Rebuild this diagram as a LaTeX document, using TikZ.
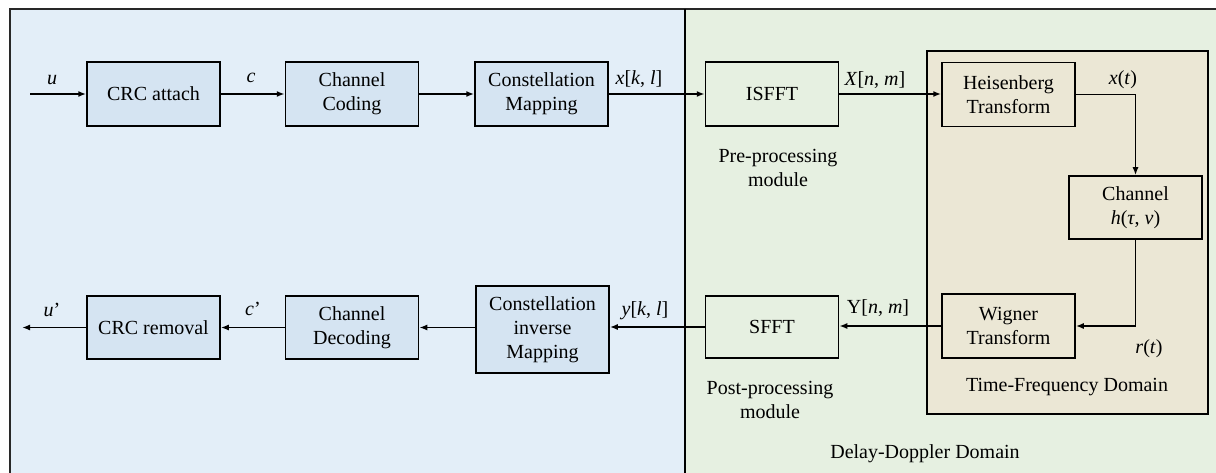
\documentclass[tikz,border=0pt]{standalone}
\usepackage{fontspec}
\setmainfont{Liberation Serif}
\usetikzlibrary{arrows.meta}
\definecolor{bluebg}{RGB}{227,238,248}
\definecolor{bluebox}{RGB}{213,228,242}
\definecolor{greenbg}{RGB}{230,240,225}
\definecolor{tfbg}{RGB}{235,231,213}
\definecolor{frame}{RGB}{40,40,40}
\tikzset{
  blk/.style={draw=black, line width=1.5pt, minimum width=133pt, minimum height=64pt, inner sep=0pt, align=center, font=\fontsize{20}{24}\selectfont},
  bblk/.style={blk, fill=bluebox},
  gblk/.style={blk, fill=greenbg},
  tblk/.style={blk, fill=tfbg},
  lbl/.style={font=\fontsize{20}{24}\selectfont, inner sep=0pt, align=center},
  arr/.style={line width=1.6pt, -{Latex[length=8pt,width=6pt]}}
}
\begin{document}
\begin{tikzpicture}[x=1pt,y=-1pt]
\useasboundingbox (0,0) rectangle (1216,473);
\clip (0,0) rectangle (1216,473);
% panels
\fill[bluebg] (10,9) rectangle (685,480);
\fill[greenbg] (685,9) rectangle (1230,480);
\draw[frame, line width=1.6pt] (1230,9) -- (10,9) -- (10,480);
\draw[black, line width=1.9pt] (685,9) -- (685,480);
\draw[black, line width=1.5pt, fill=tfbg] (927,51) rectangle (1208,414);
% blocks
\node[bblk] (crc) at (153.5,94) {CRC attach};
\node[bblk] (cc) at (352,94) {Channel\\Coding};
\node[bblk] (cm) at (541.5,94) {Constellation\\Mapping};
\node[gblk] (isfft) at (772,94) {ISFFT};
\node[tblk] (heis) at (1008.5,94.5) {Heisenberg\\Transform};
\node[tblk, minimum height=63pt] (chan) at (1135.5,207.5) {Channel\\\textit{h}(\textit{τ}, \textit{ν})};
\node[tblk] (wig) at (1008.5,326) {Wigner\\Transform};
\node[gblk, minimum height=62pt] (sfft) at (772,327) {SFFT};
\node[bblk, minimum height=87pt] (cim) at (542.5,329.5) {Constellation\\inverse\\Mapping};
\node[bblk, minimum height=63pt] (cd) at (352,327.5) {Channel\\Decoding};
\node[bblk, minimum height=63pt] (crcr) at (153.5,327.5) {CRC removal};
\coordinate (in) at (30,94);
\coordinate (out) at (22,327.5);
% connectors
\draw[arr] (in) -- (crc);
\draw[arr] (crc) -- (cc);
\draw[arr] (cc) -- (cm);
\draw[arr] (cm) -- (isfft);
\draw[arr] (isfft.east) -- (heis.west |- isfft.east);
\draw[arr] (heis.east) -| (chan.north);
\draw[arr] (chan.south) |- (wig.east);
\draw[arr] (wig.west) -- (sfft.east |- wig.west);
\draw[arr] (sfft.west) -- (cim.east |- sfft.west);
\draw[arr] (cim.west |- cd.east) -- (cd.east);
\draw[arr] (cd) -- (crcr);
\draw[arr] (crcr) -- (out);
% labels
\node[lbl] (lu) at (52,80) {\textit{u}};
\node[lbl] (lc) at (251,78) {\textit{c}};
\node[lbl] (lx) at (639,79) {\textit{x}[\textit{k}, \textit{l}]};
\node[lbl] (lX) at (875,80) {\textit{X}[\textit{n}, \textit{m}]};
\node[lbl] (lxt) at (1123,80) {\textit{x}(\textit{t})};
\node[lbl] (lY) at (878,308) {Y[\textit{n}, \textit{m}]};
\node[lbl] (ly) at (645,311) {\textit{y}[\textit{k}, \textit{l}]};
\node[lbl] (lrt) at (1149,349) {\textit{r}(\textit{t})};
\node[lbl] (luo) at (52,310) {\textit{u}’};
\node[lbl] (lco) at (253,309) {\textit{c}’};
\node[lbl] (pre) at (778,168) {Pre-processing\\module};
\node[lbl] (post) at (770,400) {Post-processing\\module};
\node[lbl] (tf) at (1067,387) {Time-Frequency Domain};
\node[lbl] (dd) at (925,454) {Delay-Doppler Domain};
\end{tikzpicture}
\end{document}
